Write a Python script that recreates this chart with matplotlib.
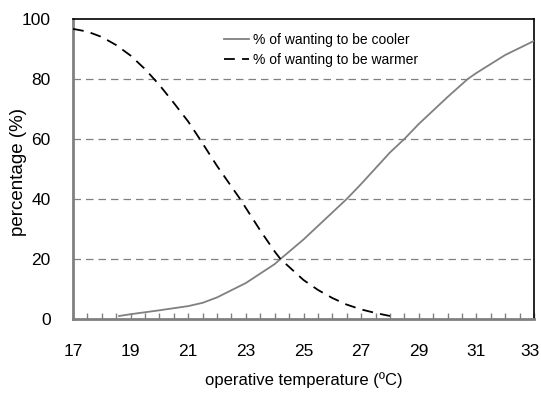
import numpy as np
import matplotlib
matplotlib.use("Agg")
import matplotlib.pyplot as plt
import matplotlib.transforms as mtransforms
from matplotlib.ticker import MultipleLocator

plt.rcParams['font.family'] = ['Liberation Sans', 'DejaVu Sans']

# % of occupants wanting to be cooler / warmer vs operative temperature
temp_cooler = [18.6, 19, 20, 21, 21.5, 22, 23, 24, 24.2, 25, 26, 26.5, 27, 28, 28.5, 29, 30, 30.7, 31, 32, 33]
pct_cooler = [1.0, 1.6, 2.9, 4.3, 5.4, 7.2, 12.0, 18.3, 20.0, 26.5, 35.5, 40.0, 45.0, 55.5, 60.0, 65.0, 74.0, 80.0, 82.0, 88.0, 92.7]

temp_warmer = [17, 17.5, 18, 18.5, 19, 19.5, 20, 20.5, 21, 21.4, 22, 22.8, 23, 23.5, 24, 24.2, 25, 25.5, 26, 26.5, 27, 27.5, 28]
pct_warmer = [96.7, 95.8, 94.0, 91.3, 87.8, 83.3, 78.0, 72.0, 65.8, 60.0, 51.0, 40.0, 37.0, 29.5, 22.5, 20.0, 13.0, 9.7, 7.0, 4.8, 3.2, 2.0, 1.0]

x_ticks = [17, 19, 21, 23, 25, 27, 29, 31, 33]
y_ticks = [0, 20, 40, 60, 80, 100]

fig = plt.figure(figsize=(5.41, 3.95), dpi=100)
ax = fig.add_axes([73 / 541, 1 - 319 / 395, (534 - 73) / 541, (319 - 19) / 395])

for y in y_ticks[1:-1]:
    ax.axhline(y, color='#808080', linewidth=0.9, linestyle=(0, (6, 4)), zorder=1)

ax.plot(temp_cooler, pct_cooler, color='#808080', linewidth=1.3,
        label='% of wanting to be cooler', zorder=3)
ax.plot(temp_warmer, pct_warmer, color='black', linewidth=1.3,
        linestyle=(0, (6, 4)), label='% of wanting to be warmer', zorder=3)

ax.set_xlim(17, 33)
ax.set_ylim(0, 100)
ax.set_xticks(x_ticks)
ax.xaxis.set_minor_locator(MultipleLocator(0.5))
ax.set_yticks(y_ticks)
ax.tick_params(axis='x', which='both', direction='in', length=4, color='#808080',
               width=1, labelsize=12.5, pad=18)
ax.tick_params(axis='y', length=0, labelsize=12.5, pad=16)

# nudge the last x tick label so it stays inside the figure
last = ax.get_xticklabels()[-1]
last.set_transform(last.get_transform() +
                   mtransforms.ScaledTranslation(-4 / 100, 0, fig.dpi_scale_trans))

for side in ['left', 'bottom']:
    ax.spines[side].set_color('#808080')
    ax.spines[side].set_linewidth(2)
for side in ['top', 'right']:
    ax.spines[side].set_color('black')
    ax.spines[side].set_linewidth(1.2)

ax.set_xlabel('operative temperature (ºC)', fontsize=12)
ax.xaxis.set_label_coords(0.5, -(372 - 319) / 300)
ax.set_ylabel('percentage (%)', fontsize=13.5)
ax.yaxis.set_label_coords(-(73 - 27) / 461, 0.49)

ax.legend(loc='upper left', bbox_to_anchor=(0.3, 0.995), frameon=False,
          fontsize=10, handlelength=1.8, handletextpad=0.3, labelspacing=0.45)

fig.savefig('out.png', dpi=100)
